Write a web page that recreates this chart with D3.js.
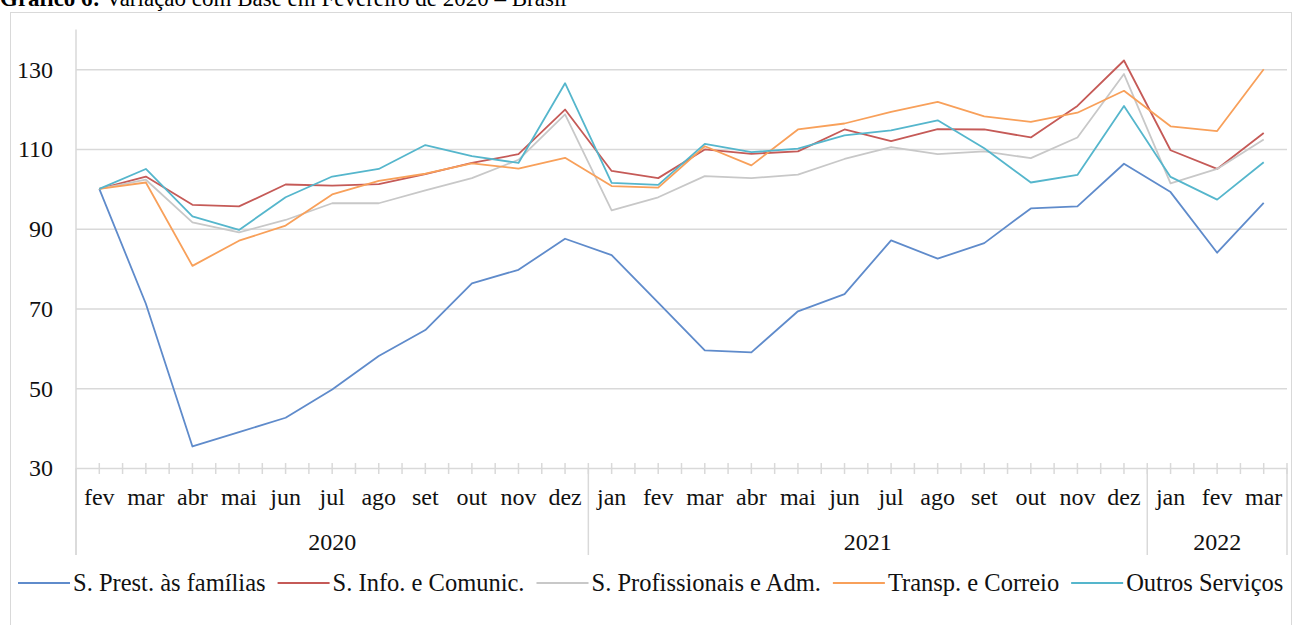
<!DOCTYPE html>
<html>
<head>
<meta charset="utf-8">
<script src="https://cdn.jsdelivr.net/npm/d3@7"></script>
<style>
  body { margin: 0; background: #fff; }
  svg { display: block; font-family: "Liberation Serif", "Times New Roman", serif; }
</style>
</head>
<body>
<svg id="chart" width="1294" height="625"></svg>
<script>
// meses (eixo x) e anos
var months = ["fev","mar","abr","mai","jun","jul","ago","set","out","nov","dez",
              "jan","fev","mar","abr","mai","jun","jul","ago","set","out","nov","dez",
              "jan","fev","mar"];
var yearLabels = ["2020", "2021", "2022"];
var yearCounts = [11, 12, 3];
var yTicks = [30, 50, 70, 90, 110, 130];

// series (base fev/2020 = 100)
var prestFamilias = [100, 71.2, 35.4, 39.0, 42.6, 49.7, 58.1, 64.6, 76.3, 79.7, 87.5,
                     83.4, 71.5, 59.5, 59.0, 69.3, 73.6, 87.1, 82.5, 86.4, 95.1, 95.6, 106.3,
                     99.2, 84.0, 96.5];
var infoComunic = [100, 103.1, 96.0, 95.6, 101.1, 100.8, 101.2, 103.7, 106.5, 108.7, 119.9,
                   104.5, 102.7, 109.9, 108.8, 109.4, 114.9, 112.0, 115.0, 114.9, 112.9, 120.8, 132.2,
                   109.7, 105.0, 114.0];
var profissAdm = [100, 102.3, 91.6, 89.1, 92.2, 96.4, 96.4, 99.6, 102.7, 107.3, 118.7,
                  94.6, 97.9, 103.2, 102.7, 103.6, 107.5, 110.5, 108.7, 109.4, 107.7, 112.9, 128.8,
                  101.4, 105.0, 112.4];
var transpCorreio = [100, 101.6, 80.7, 87.0, 90.8, 98.6, 102.0, 103.8, 106.4, 105.1, 107.8,
                     100.7, 100.3, 110.7, 105.9, 114.9, 116.4, 119.3, 121.8, 118.2, 116.8, 119.1, 124.6,
                     115.7, 114.5, 130.0];
var outrosServ = [100, 105.0, 93.1, 89.7, 97.9, 103.1, 105.0, 111.0, 108.2, 106.5, 126.5,
                  101.5, 101.0, 111.3, 109.2, 110.1, 113.4, 114.7, 117.2, 110.2, 101.6, 103.5, 120.8,
                  103.0, 97.3, 106.7];

var seriesNames = ["S. Prest. às famílias", "S. Info. e Comunic.", "S. Profissionais e Adm.",
                   "Transp. e Correio", "Outros Serviços"];
var seriesValues = [prestFamilias, infoComunic, profissAdm, transpCorreio, outrosServ];
var seriesColors = ["#5f8bcb", "#c55a57", "#c8c8c8", "#f8a05a", "#55b6cc"];

var svg = d3.select("#chart");
var gridColor = "#d9d9d9";
var margin = {left: 76, right: 1287, top: 29.4, bottom: 468};

var x = d3.scaleBand()
  .domain(d3.range(months.length))
  .range([margin.left, margin.right])
  .padding(0);
var bw = x.bandwidth();
var y = d3.scaleLinear()
  .domain([30, 140])
  .range([margin.bottom, margin.top]);

// moldura
svg.append("rect")
  .attr("x", 10.5).attr("y", 12.5)
  .attr("width", 1281).attr("height", 640)
  .attr("fill", "none")
  .attr("stroke", gridColor);

// titulo (cortado no topo, como no original)
var title = svg.append("text")
  .attr("x", 0).attr("y", 6)
  .attr("font-size", 23)
  .attr("fill", "#000");
title.append("tspan").attr("font-weight", "bold").text("Gráfico 6:");
title.append("tspan").text(" Variação com Base em Fevereiro de 2020 – Brasil");

// grade + rotulos do eixo y
var yAxis = svg.append("g")
  .attr("transform", "translate(" + margin.left + ",0)")
  .call(d3.axisLeft(y)
    .tickValues(yTicks)
    .tickSize(-(margin.right - margin.left))
    .tickPadding(23));
yAxis.select(".domain").remove();
yAxis.selectAll(".tick line").attr("stroke", gridColor).attr("stroke-width", 1.5);
yAxis.selectAll(".tick text")
  .attr("font-size", 24)
  .attr("font-family", "Liberation Serif")
  .attr("fill", "#111")
  .attr("dy", "0.33em");

// linha vertical do eixo
svg.append("line")
  .attr("x1", margin.left).attr("x2", margin.left)
  .attr("y1", margin.top).attr("y2", 555)
  .attr("stroke", gridColor).attr("stroke-width", 1.5);

// marcas do eixo x (a cada meia categoria)
var tickPos = d3.range(months.length * 2 + 1).map(function(i) { return margin.left + i * bw / 2; });
svg.append("g").selectAll("line")
  .data(tickPos.slice(1))
  .enter().append("line")
    .attr("x1", function(d) { return d; })
    .attr("x2", function(d) { return d; })
    .attr("y1", 463).attr("y2", 474)
    .attr("stroke", gridColor).attr("stroke-width", 1.5);

// rotulos dos meses
svg.append("g").selectAll("text")
  .data(months)
  .enter().append("text")
    .attr("x", function(d, i) { return x(i) + bw / 2; })
    .attr("y", 505)
    .attr("text-anchor", "middle")
    .attr("font-size", 24)
    .attr("fill", "#111")
    .text(function(d) { return d; });

// grupos de anos
var starts = [0];
yearCounts.forEach(function(c, i) { starts.push(starts[i] + c); });
var sepX = starts.map(function(s) { return s < months.length ? x(s) : margin.right; });
svg.append("g").selectAll("line")
  .data(sepX)
  .enter().append("line")
    .attr("x1", function(d) { return d; })
    .attr("x2", function(d) { return d; })
    .attr("y1", margin.bottom).attr("y2", 555)
    .attr("stroke", gridColor).attr("stroke-width", 1.5);
svg.append("g").selectAll("text")
  .data(yearLabels)
  .enter().append("text")
    .attr("x", function(d, i) { return (sepX[i] + sepX[i + 1]) / 2; })
    .attr("y", 550)
    .attr("text-anchor", "middle")
    .attr("font-size", 24)
    .attr("fill", "#111")
    .text(function(d) { return d; });

// linhas
var line = d3.line()
  .x(function(d, i) { return x(i) + bw / 2; })
  .y(function(d) { return y(d); });
svg.append("g").selectAll("path")
  .data(seriesValues)
  .enter().append("path")
    .attr("d", line)
    .attr("fill", "none")
    .attr("stroke", function(d, i) { return seriesColors[i]; })
    .attr("stroke-width", 1.8)
    .attr("stroke-linejoin", "round");

// legenda
var legend = svg.append("g");
var lx = 18, ly = 583;
seriesNames.forEach(function(name, i) {
  legend.append("line")
    .attr("x1", lx).attr("x2", lx + 52)
    .attr("y1", ly).attr("y2", ly)
    .attr("stroke", seriesColors[i]).attr("stroke-width", 2);
  var t = legend.append("text")
    .attr("x", lx + 55).attr("y", ly + 8)
    .attr("font-size", 24.5)
    .attr("fill", "#111")
    .text(name);
  lx = lx + 55 + t.node().getComputedTextLength() + 12;
});
</script>
</body>
</html>
